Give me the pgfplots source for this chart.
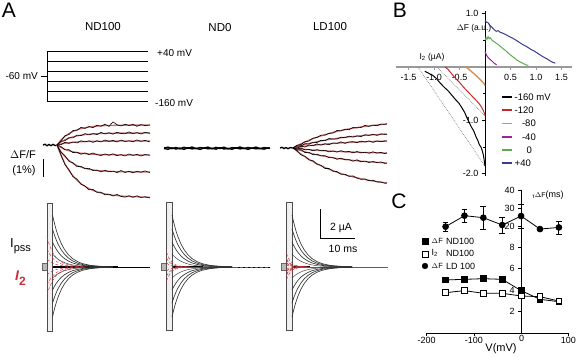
\documentclass[border=0pt]{standalone}
\usepackage{pgfplots}
\pgfplotsset{compat=1.18}
\usepackage{pgfplotstable}
\usepackage{fontspec}
\setmainfont{Liberation Sans}
\newcommand{\fs}[1]{\fontsize{#1}{#1}\selectfont}
\definecolor{fitred}{RGB}{205,110,110}
\definecolor{cred}{RGB}{205,45,55}
\definecolor{bred}{RGB}{200,40,40}
\definecolor{btan}{RGB}{215,145,80}
\definecolor{bpurple}{RGB}{150,40,150}
\definecolor{bgreen}{RGB}{95,170,80}
\definecolor{bblue}{RGB}{60,60,140}

% Delta F traces ND100 (pixel units): fits f, raw traces b
\pgfplotstableread{
x f1 f2 f3 f4 f5 f6 b1 b2 b3 b4 b5 b6
57 145 145 145 145 145 145 145 145 145 145 145 145
61 140.0 142.0 144.0 147.5 151.7 155.5 140.8 141.3 144.6 146.6 152.4 154.7
65 136.3 139.8 143.3 149.4 156.8 163.8 135.7 140.7 142.3 149.9 155.7 164.8
69 133.5 138.1 142.7 150.8 160.5 170.5 134.5 137.6 143.4 149.7 161.4 169.9
73 131.4 136.8 142.3 151.8 163.4 175.9 130.5 137.9 142.0 152.6 162.8 176.8
77 129.8 135.9 142.0 152.6 165.5 180.2 130.3 135.1 143.0 152.2 166.7 179.1
81 128.6 135.2 141.7 153.2 167.1 183.7 127.4 135.6 140.8 154.2 166.3 184.2
85 127.7 134.6 141.5 153.6 168.3 186.4 128.4 133.6 141.9 152.9 168.7 186.0
89 127.0 134.2 141.4 154.0 169.3 188.6 126.6 134.9 140.8 154.6 168.3 189.8
93 126.5 133.9 141.3 154.2 169.9 190.4 127.6 133.6 142.4 153.0 170.5 189.5
97 126.1 133.7 141.2 154.4 170.5 191.8 125.3 134.6 140.7 154.7 170.2 192.4
101 125.9 133.5 141.2 154.6 170.8 192.9 126.2 132.4 142.0 155.5 171.9 192.2
105 125.6 133.4 141.1 154.7 171.1 193.9 124.2 133.9 140.0 153.9 170.2 194.9
109 125.5 133.3 141.1 154.8 171.3 194.6 126.4 132.7 141.4 155.3 171.8 194.1
113 125.4 133.2 141.1 154.8 171.5 195.2 121.9 134.2 140.4 153.8 171.1 196.0
117 125.3 133.2 141.1 154.9 171.6 195.6 124.7 132.3 142.0 155.6 172.6 194.4
121 125.2 133.1 141.0 154.9 171.7 196.0 126.0 133.4 140.0 154.6 170.5 196.4
125 125.2 133.1 141.0 154.9 171.8 196.3 124.2 133.9 141.5 156.0 172.5 197.2
129 125.1 133.1 141.0 154.9 171.8 196.5 125.5 131.9 140.8 154.0 171.3 195.7
133 125.1 133.1 141.0 155.0 171.9 196.7 124.4 133.7 141.8 155.4 172.8 197.3
137 125.1 133.0 141.0 155.0 171.9 196.8 126.3 132.6 139.9 154.4 171.2 195.8
141 125.1 133.0 141.0 155.0 171.9 197.0 124.6 134.0 141.4 156.0 172.2 197.5
145 125.0 133.0 141.0 155.0 171.9 197.1 125.6 132.3 140.4 154.5 170.9 196.8
150 125.0 133.0 141.0 155.0 172.0 197.2 125.0 133.3 141.9 155.2 172.6 197.9
}\ndF

% Delta F traces LD100
\pgfplotstableread{
x f1 f2 f3 f4 f5 f6 b1 b2 b3 b4 b5 b6
293 148 148 148 148 148 148 148 148 148 148 148 148
297 145.8 146.7 147.4 148.5 149.4 151.2 145.2 146.0 148.0 149.0 150.0 150.6
301 143.8 145.6 146.8 148.9 150.6 154.1 144.5 146.0 146.3 148.1 149.7 154.9
305 142.0 144.5 146.2 149.3 151.8 156.8 141.6 143.6 147.0 149.9 152.5 156.3
309 140.2 143.5 145.7 149.6 152.9 159.3 141.1 144.1 145.0 149.4 152.4 160.0
313 138.7 142.6 145.3 150.0 153.8 161.6 138.1 142.3 145.7 150.8 154.8 160.7
317 137.2 141.7 144.9 150.3 154.8 163.8 137.5 142.5 143.9 149.6 154.2 164.2
321 135.9 140.9 144.5 150.5 155.6 165.7 135.1 140.3 145.1 150.8 155.9 165.4
325 134.6 140.2 144.1 150.8 156.4 167.5 135.2 140.7 143.8 150.3 155.6 168.5
329 133.5 139.5 143.8 151.0 157.1 169.2 133.3 138.5 144.7 151.9 157.6 168.5
333 132.4 138.9 143.5 151.3 157.8 170.7 133.1 139.1 142.9 150.9 157.6 171.2
337 131.4 138.3 143.2 151.5 158.4 172.2 130.5 139.0 143.4 152.1 159.3 171.6
341 130.5 137.8 142.9 151.6 158.9 173.5 130.9 137.2 141.8 150.7 158.2 174.3
345 129.7 137.3 142.7 151.8 159.4 174.7 129.2 137.7 143.4 152.0 159.8 174.3
349 128.9 136.9 142.4 152.0 159.9 175.8 129.7 136.1 141.9 151.4 159.6 176.4
353 128.2 136.5 142.2 152.1 160.4 176.9 127.5 137.1 141.7 152.8 161.2 175.9
357 127.6 136.1 142.0 152.3 160.8 177.8 127.8 135.9 142.6 151.5 159.8 178.1
361 126.9 135.7 141.9 152.4 161.2 178.7 127.5 136.6 141.1 152.8 161.8 179.4
365 126.4 135.4 141.7 152.5 161.5 179.5 125.4 134.7 142.0 152.3 161.1 178.9
369 125.9 135.1 141.5 152.6 161.8 180.3 126.4 135.4 140.9 153.2 162.5 180.8
373 125.4 134.8 141.4 152.7 162.1 181.0 125.1 134.3 142.4 151.8 161.5 180.2
377 125.0 134.6 141.3 152.8 162.4 181.6 125.8 135.4 140.9 153.1 162.6 182.0
381 124.6 134.3 141.2 152.9 162.7 182.2 124.0 133.9 141.7 152.4 161.9 182.0
385 124.2 134.1 141.1 153.0 162.9 182.7 124.4 134.3 140.9 153.7 163.4 183.3
387 124.0 134.0 141.0 153.0 163.0 183.0 123.7 134.3 141.2 152.8 163.1 182.9
}\ldF

% ND0 Delta F (flat)
\pgfplotstableread{
x a b
164 148.0 148.5
168 147.2 149.2
172 148.6 147.9
176 147.5 149.0
180 148.9 148.1
184 147.3 149.3
188 148.4 147.8
192 147.0 148.9
196 148.7 148.2
200 147.6 149.4
204 148.2 147.9
208 147.1 148.8
212 148.8 148.3
216 147.4 149.1
220 148.5 147.7
224 147.2 149.0
228 148.9 148.4
232 147.7 149.2
236 148.1 147.8
240 147.0 148.9
244 148.6 148.1
248 147.5 149.3
252 148.3 148.0
256 147.1 148.8
260 148.7 148.4
264 147.6 149.1
268 148.2 147.9
270 148.0 148.5
}\nzF

% capacitive current transients (ND100 position)
\pgfplotstableread{
x u1 u2 u3 u4 l1 l2 l3 l4
52.5 215 229 242 254 317 303 290 278
54.5 223.6 235.3 246.1 256.2 308.7 297 286.2 276.2
56.5 230.9 240.6 249.6 258 301.8 292 283 274.6
58.5 236.8 245 252.5 259.5 296 287.9 280.3 273.4
61.5 244.1 250.2 256 261.3 289.1 282.9 277.1 271.9
64.5 249.5 254.2 258.6 262.6 283.8 279.1 274.7 270.7
68.5 254.8 258.1 261.1 264 278.7 275.4 272.4 269.6
72.5 258.6 260.8 262.9 264.9 275.1 272.8 270.7 268.8
77.5 261.6 263.1 264.4 265.7 272.2 270.7 269.4 268.1
82.5 263.6 264.5 265.4 266.2 270.3 269.3 268.5 267.7
90.5 265.4 265.8 266.2 266.6 268.6 268.2 267.7 267.4
100.5 266.3 266.5 266.7 266.8 267.6 267.5 267.3 267.1
112.5 266.8 266.8 266.9 266.9 267.2 267.2 267.1 267.0
}\cur

% I2 fits (ND100 position)
\pgfplotstableread{
x r1 r2 r3 r4 r5 r6
47 237 249 259 275 285 295
49 243.6 253 260.8 273.2 281 288.8
51 248.8 256.1 262.1 271.9 277.9 284
53 252.8 258.5 263.2 270.8 275.5 280.2
56 257.3 261.1 264.4 269.6 272.9 276.1
59 260.3 263 265.2 268.8 271 273.2
63 262.9 264.6 265.9 268.1 269.4 270.8
67 264.5 265.5 266.3 267.7 268.5 269.3
73 265.8 266.3 266.7 267.3 267.7 268.1
79 266.45 266.7 266.86 267.15 267.3 267.5
85 266.74 266.84 266.93 267.07 267.16 267.24
}\itwo

\begin{document}
\begin{tikzpicture}
\path[use as bounding box] (0,0) rectangle (576pt,361pt);

% ================= master axis in pixel units (panel A + labels) =================
\begin{axis}[at={(0pt,0pt)}, anchor=south west, scale only axis, width=576pt, height=361pt,
  xmin=0, xmax=576, ymin=0, ymax=361, y dir=reverse, hide axis, clip=false]

% panel letters and titles
\node[font=\fs{21}] at (axis cs:9,10.5) {A};
\node[font=\fs{21}] at (axis cs:400,10) {B};
\node[font=\fs{21}] at (axis cs:399,201) {C};
\node[font=\fs{11.5}] at (axis cs:103,27) {ND100};
\node[font=\fs{11.5}] at (axis cs:220,28) {ND0};
\node[font=\fs{11.5}] at (axis cs:330,27) {LD100};

% voltage protocol
\addplot[black, line width=0.8pt] coordinates {(148,51)(47,51)(47,101)(148,101)};
\addplot[black, line width=0.8pt] coordinates {(47,61)(148,61)};
\addplot[black, line width=0.8pt] coordinates {(47,71)(148,71)};
\addplot[black, line width=0.8pt] coordinates {(47,81)(148,81)};
\addplot[black, line width=0.8pt] coordinates {(47,91)(148,91)};
\addplot[black, line width=0.8pt] coordinates {(40.5,76)(47,76)};
\node[font=\fs{10}, anchor=west, inner sep=0pt] at (axis cs:157,53) {+40 mV};
\node[font=\fs{10}, anchor=west, inner sep=0pt] at (axis cs:155,103) {-160 mV};
\node[font=\fs{10}, anchor=east, inner sep=0pt] at (axis cs:38,76) {-60 mV};

% Delta F/F label and scale bar
\node[font=\fs{11}] at (axis cs:23,155) {$\Delta$F/F};
\node[font=\fs{11}] at (axis cs:24,171) {(1\%)};
\addplot[black, line width=0.8pt] coordinates {(43.3,159)(43.3,176.7)};

% ND100 Delta F
\addplot[black, line width=1.3pt] coordinates {(43,145)(45,144.2)(47,145.8)(49,144.4)(51,145.7)(53,144.3)(55,145.6)(57,145)};
\foreach \k in {1,...,6}{
  \addplot[fitred, line width=1.3pt] table[x=x, y=f\k] {\ndF};
}
\foreach \k in {1,...,6}{
  \addplot[black, line width=0.6pt] table[x=x, y=b\k] {\ndF};
}
% ND0 Delta F
\addplot[black, line width=1.4pt] table[x=x, y=a] {\nzF};
\addplot[black, line width=1.4pt] table[x=x, y=b] {\nzF};
% LD100 Delta F
\addplot[black, line width=1.3pt] coordinates {(280,148)(282,147.3)(284,148.6)(286,147.5)(288,148.7)(290,147.6)(293,148)};
\foreach \k in {1,...,6}{
  \addplot[fitred, line width=1.3pt] table[x=x, y=f\k] {\ldF};
}
\foreach \k in {1,...,6}{
  \addplot[black, line width=0.6pt] table[x=x, y=b\k] {\ldF};
}

% ---- currents ----
\node[font=\fs{13}, anchor=west, inner sep=0pt] at (axis cs:10,246) {I\raisebox{-4pt}{\fs{11}pss}};
\node[font=\fs{14}, anchor=west, inner sep=0pt, text=cred] at (axis cs:15,278) {\bfseries\itshape I\raisebox{-4.5pt}{\upshape\fs{12}2}};

% ND100
\addplot[black, line width=0.5pt] coordinates {(43,267)(150,267)};
\addplot[black, line width=1.1pt] coordinates {(52,267)(118,267)};
\addplot[fill=gray!55, draw=black!60, line width=0.4pt] coordinates {(42,263.5)(47,263.5)(47,270.5)(42,270.5)} -- cycle;
\addplot[fill=gray!12, draw=black!70, line width=0.9pt] coordinates {(47,203)(52.5,203)(52.5,331)(47,331)} -- cycle;
\foreach \c in {u1,u2,u3,l1,l2,l3}{
  \addplot[black!80, line width=0.65pt] table[x=x, y=\c] {\cur};
}
\foreach \c in {u4,l4}{
  \addplot[black!80, line width=0.45pt] table[x=x, y=\c] {\cur};
}
\foreach \c in {r1,r2,r3,r4,r5,r6}{
  \addplot[cred, densely dashed, line width=0.45pt] table[x=x, y=\c] {\itwo};
}
% ND0
\addplot[black, line width=0.5pt] coordinates {(162,267)(270,267)};
\addplot[black, line width=1.1pt] coordinates {(171,267)(203,267)};
\addplot[cred, line width=0.7pt] coordinates {(175,267.3)(235,267.3)};
\addplot[cred, densely dashed, line width=0.7pt] coordinates {(235,267.3)(270,267.3)};
\addplot[fill=gray!55, draw=black!60, line width=0.4pt] coordinates {(161.5,263.5)(166.5,263.5)(166.5,270.5)(161.5,270.5)} -- cycle;
\addplot[fill=gray!12, draw=black!70, line width=0.9pt] coordinates {(166.5,202)(172,202)(172,330)(166.5,330)} -- cycle;
\foreach \c in {u1,u2,u3,l1,l2,l3}{
  \addplot[black!80, line width=0.65pt] table[x expr=\thisrow{x}+119.5, y=\c] {\cur};
}
\foreach \c in {u4,l4}{
  \addplot[black!80, line width=0.45pt] table[x expr=\thisrow{x}+119.5, y=\c] {\cur};
}
\foreach \c in {r1,r2,r3,r4,r5,r6}{
  \addplot[cred, densely dashed, line width=0.45pt] table[x expr=166.5+(\thisrow{x}-47)*0.6, y expr=267+(\thisrow{\c}-267)*0.5] {\itwo};
}
% LD100
\addplot[black, line width=0.5pt] coordinates {(282,267)(388,267)};
\addplot[black, line width=1.1pt] coordinates {(291,267)(310,267)};
\addplot[cred, line width=0.7pt] coordinates {(300,267.3)(388,267.3)};
\addplot[fill=gray!55, draw=black!60, line width=0.4pt] coordinates {(281.5,263.5)(286.5,263.5)(286.5,270.5)(281.5,270.5)} -- cycle;
\addplot[fill=gray!12, draw=black!70, line width=0.9pt] coordinates {(286.5,202)(292,202)(292,330)(286.5,330)} -- cycle;
\foreach \c in {u1,u2,u3,l1,l2,l3}{
  \addplot[black!80, line width=0.65pt] table[x expr=\thisrow{x}+239.5, y=\c] {\cur};
}
\foreach \c in {u4,l4}{
  \addplot[black!80, line width=0.45pt] table[x expr=\thisrow{x}+239.5, y=\c] {\cur};
}
\foreach \c in {r1,r2,r3,r4,r5,r6}{
  \addplot[cred, densely dashed, line width=0.45pt] table[x expr=286.5+(\thisrow{x}-47)*0.55, y expr=267+(\thisrow{\c}-267)*0.45] {\itwo};
  \addplot[cred, densely dashed, line width=0.45pt] table[x expr=286.5+(\thisrow{x}-47)*0.5, y expr=267+(\thisrow{\c}-267)*0.25] {\itwo};
}
% current scale bar
\addplot[black, line width=0.8pt] coordinates {(320.7,209)(320.7,238.3)(355,238.3)};
\node[font=\fs{10.5}] at (axis cs:341,228) {2 µA};
\node[font=\fs{10.5}] at (axis cs:343,249) {10 ms};

% ---- panel B labels and legend ----
\node[font=\fs{8.5}] at (axis cs:474,28) {$\Delta$F (a.u.)};
\node[font=\fs{8.5}] at (axis cs:432,57) {I\textsubscript{2} (µA)};
\addplot[black, line width=1.2pt] coordinates {(502,97)(512,97)};
\addplot[bred, line width=1.2pt] coordinates {(502,110)(512,110)};
\addplot[btan, line width=1.8pt] coordinates {(502,123.5)(512,123.5)};
\addplot[bpurple, line width=1.2pt] coordinates {(502,137)(512,137)};
\addplot[bgreen, line width=1.2pt] coordinates {(502,150)(512,150)};
\addplot[bblue, line width=1.2pt] coordinates {(502,163)(512,163)};
\node[font=\fs{9.5}, anchor=west, inner sep=0pt] at (axis cs:514.5,97) {-160 mV};
\node[font=\fs{9.5}, anchor=west, inner sep=0pt] at (axis cs:514.5,110) {-120};
\node[font=\fs{9.5}, anchor=east, inner sep=0pt] at (axis cs:536,123.5) {-80};
\node[font=\fs{9.5}, anchor=east, inner sep=0pt] at (axis cs:536,137) {-40};
\node[font=\fs{9.5}, anchor=east, inner sep=0pt] at (axis cs:532,150) {0};
\node[font=\fs{9.5}, anchor=west, inner sep=0pt] at (axis cs:514.5,163) {+40};

% ---- panel C labels and legend ----
\node[font=\fs{9}] at (axis cs:548,195) {{\fs{6}\raisebox{-1.5pt}{τ}}{\fs{7}$\Delta$F}(ms)};
\node[font=\fs{11}] at (axis cs:501,349) {V(mV)};
\node[font=\fs{9}] at (axis cs:521.7,338.5) {0};
\addplot[black, only marks, mark=square*, mark size=2.8pt] coordinates {(425,241)};
\addplot[black, only marks, mark=square*, mark options={fill=white}, mark size=2.8pt] coordinates {(425,254)};
\addplot[black, only marks, mark=*, mark size=2.9pt] coordinates {(425,266)};
\node[font=\fs{7.5}, anchor=west, inner sep=0pt] at (axis cs:431.5,241) {$\Delta$F};
\node[font=\fs{9}, anchor=west, inner sep=0pt] at (axis cs:431.5,253) {I\textsubscript{2}};
\node[font=\fs{7.5}, anchor=west, inner sep=0pt] at (axis cs:431.5,266) {$\Delta$F};
\node[font=\fs{9}, anchor=west, inner sep=0pt] at (axis cs:446,241) {ND100};
\node[font=\fs{9}, anchor=west, inner sep=0pt] at (axis cs:446,253) {ND100};
\node[font=\fs{9}, anchor=west, inner sep=0pt] at (axis cs:446,266) {LD 100};
\end{axis}

% ================= panel B =================
\begin{axis}[at={(395.75pt,184.7pt)}, anchor=south west, scale only axis, width=175.95pt, height=165.3pt,
  xmin=-1.75, xmax=1.7, ymin=-2.05, ymax=1.05, clip=false,
  axis lines=middle,
  x axis line style={draw=gray!80, line width=1.6pt},
  y axis line style={draw=black, line width=0.6pt},
  every inner x axis line/.append style={-},
  every inner y axis line/.append style={-},
  xtick={-1.5,-1,-0.5,0.5,1,1.5}, ytick={-2,-1,1}, minor ytick={-1.5,-0.5,0.5},
  tick align=outside, major tick length=3pt, minor tick length=2pt,
  x tick style={draw=gray!80, line width=0.8pt}, y tick style={draw=black, line width=0.6pt},
  tick label style={font=\fs{9}},
  xticklabel style={yshift=-1pt},
  /pgf/number format/.cd, fixed, fixed zerofill, precision=1, assume math mode=true]
\addplot[gray, densely dotted, line width=0.7pt] coordinates {(-1.30,-0.02)(0,-1.86)};
\addplot[gray, densely dotted, line width=0.7pt] coordinates {(-0.92,-0.02)(0,-0.92)};
\addplot[black, line width=1.0pt] coordinates {(-1.18,-0.08)(-1.10,-0.12)(-1.02,-0.16)(-0.95,-0.22)(-0.88,-0.30)(-0.80,-0.38)(-0.72,-0.45)(-0.65,-0.53)(-0.58,-0.61)(-0.51,-0.68)(-0.45,-0.77)(-0.40,-0.85)(-0.35,-0.96)(-0.32,-1.02)(-0.27,-1.12)(-0.22,-1.20)(-0.18,-1.30)(-0.14,-1.38)(-0.11,-1.46)(-0.08,-1.50)(-0.05,-1.58)(-0.03,-1.66)(-0.02,-1.72)(0,-1.86)};
\addplot[bred, line width=1.0pt] coordinates {(-0.78,0)(-0.72,-0.05)(-0.66,-0.12)(-0.60,-0.19)(-0.54,-0.25)(-0.48,-0.31)(-0.42,-0.38)(-0.36,-0.44)(-0.30,-0.50)(-0.24,-0.56)(-0.18,-0.62)(-0.12,-0.68)(-0.07,-0.75)(-0.03,-0.82)(0,-0.90)};
\addplot[btan, line width=1.4pt] coordinates {(-0.38,0)(-0.32,-0.04)(-0.26,-0.09)(-0.20,-0.14)(-0.14,-0.19)(-0.09,-0.24)(-0.05,-0.28)(-0.02,-0.31)(0,-0.35)};
\addplot[bpurple, line width=1.0pt] coordinates {(0,0.29)(0.03,0.22)(0.06,0.18)(0.10,0.14)(0.14,0.11)(0.18,0.07)(0.23,0.04)};
\addplot[bgreen, line width=1.0pt] coordinates {(0,0.50)(0.02,0.55)(0.04,0.52)(0.06,0.57)(0.08,0.53)(0.10,0.55)(0.14,0.50)(0.20,0.46)(0.26,0.42)(0.32,0.37)(0.40,0.31)(0.48,0.24)(0.56,0.18)(0.64,0.12)(0.72,0.08)(0.80,0.04)(0.85,0.03)};
\addplot[bblue, line width=1.0pt] coordinates {(0,0.87)(0.03,0.84)(0.06,0.83)(0.10,0.78)(0.14,0.74)(0.18,0.70)(0.22,0.67)(0.26,0.68)(0.30,0.65)(0.36,0.63)(0.42,0.60)(0.50,0.56)(0.58,0.52)(0.66,0.47)(0.74,0.42)(0.82,0.38)(0.90,0.33)(0.98,0.29)(1.06,0.24)(1.14,0.19)(1.22,0.15)(1.30,0.10)(1.38,0.07)};
\end{axis}

% ================= panel C lower =================
\begin{axis}[at={(426.7pt,27.7pt)}, anchor=south west, scale only axis, width=141.6pt, height=86pt,
  xmin=-200, xmax=100, ymin=0, ymax=8, clip=false,
  axis lines=middle, axis line style={line width=0.6pt},
  every inner x axis line/.append style={-},
  every inner y axis line/.append style={-},
  xtick={-200,-100,0,100}, ytick={2,4,6,8},
  tick align=outside, major tick length=3pt, tick style={black, line width=0.6pt},
  tick label style={font=\fs{9}},
  xticklabel style={yshift=2.5pt},
  /pgf/number format/assume math mode=true]
\addplot[black, line width=0.8pt, mark=square*, mark size=2.8pt,
  error bars/.cd, y dir=both, y explicit] coordinates {(-160,4.96) +- (0,0.1) (-120,5.02) +- (0,0.1) (-80,5.08) +- (0,0.25) (-40,5.02) +- (0,0.15) (0,3.97) +- (0,0.2) (40,3.16) +- (0,0.15) (80,2.94) +- (0,0.15)};
\addplot[black, line width=0.8pt, mark=square*, mark options={fill=white}, mark size=2.8pt,
  error bars/.cd, y dir=both, y explicit] coordinates {(-160,3.78) +- (0,0.1) (-120,3.97) +- (0,0.2) (-80,3.72) +- (0,0.15) (-40,3.72) +- (0,0.1) (0,3.47) +- (0,0.2) (40,3.41) +- (0,0.15) (80,3.0) +- (0,0.1)};
\end{axis}

% ================= panel C upper =================
\begin{axis}[at={(426.7pt,113.7pt)}, anchor=south west, scale only axis, width=141.6pt, height=57.3pt,
  xmin=-200, xmax=100, ymin=8.76, ymax=40, clip=false,
  axis x line=none, axis y line=middle, axis line style={line width=0.6pt},
  every inner y axis line/.append style={-},
  ytick={20,30,40}, xtick=\empty,
  tick align=outside, major tick length=3pt, tick style={black, line width=0.6pt},
  tick label style={font=\fs{9}},
  /pgf/number format/assume math mode=true]
\addplot[black, line width=0.8pt, mark=*, mark size=2.9pt,
  error bars/.cd, y dir=both, y explicit, error bar style={line width=0.8pt}] coordinates {(-160,20) +- (0,2.7) (-120,26) +- (0,3.4) (-80,24.9) +- (0,6.4) (-40,20.9) +- (0,4.4) (0,25.8) +- (0,6.5) (40,18.7) +- (0,0.5) (80,19.6) +- (0,3.6)};
\end{axis}
\end{tikzpicture}
\end{document}
